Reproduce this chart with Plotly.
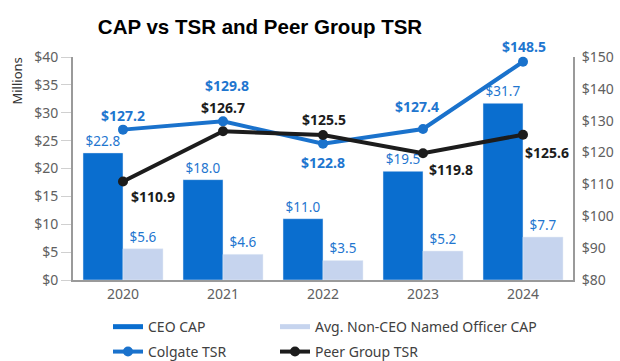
import plotly.graph_objects as go

years = ["2020", "2021", "2022", "2023", "2024"]
ceo_cap = [22.8, 18.0, 11.0, 19.5, 31.7]
neo_cap = [5.6, 4.6, 3.5, 5.2, 7.7]
colgate_tsr = [127.2, 129.8, 122.8, 127.4, 148.5]
peer_tsr = [110.9, 126.7, 125.5, 119.8, 125.6]

BLUE = "#0a6ecf"
LIGHT = "#c6d4ee"
LINE_BLUE = "#1a72cc"
BLACK = "#1c1c1c"
LABEL_BLUE = "#1f76cf"
GREY = "#606060"
FONT = "Noto Sans"

fig = go.Figure()

fig.add_trace(go.Bar(
    x=years, y=ceo_cap, marker_color=BLUE, showlegend=False,
    texttemplate="$%{y:.1f}", textposition="outside",
    textfont=dict(color=LABEL_BLUE, size=13.5, family=FONT), cliponaxis=False,
))
fig.add_trace(go.Bar(
    x=years, y=neo_cap, marker_color=LIGHT, showlegend=False,
    texttemplate="$%{y:.1f}", textposition="outside",
    textfont=dict(color=LABEL_BLUE, size=13.5, family=FONT), cliponaxis=False,
))
fig.add_trace(go.Scatter(
    x=years, y=colgate_tsr, yaxis="y2", mode="lines+markers",
    line=dict(color=LINE_BLUE, width=4), marker=dict(size=10, color=LINE_BLUE),
    name="Colgate TSR", legend="legend3", cliponaxis=False,
))
fig.add_trace(go.Scatter(
    x=years, y=peer_tsr, yaxis="y2", mode="lines+markers",
    line=dict(color=BLACK, width=4), marker=dict(size=10, color=BLACK),
    name="Peer Group TSR", legend="legend4", cliponaxis=False,
))

# legend swatches for the bar series (thin wide bars)
fig.add_trace(go.Scatter(x=[None], y=[None], mode="lines", name="CEO CAP",
                         line=dict(color=BLUE, width=5), legend="legend"))
fig.add_trace(go.Scatter(x=[None], y=[None], mode="lines",
                         name="Avg. Non-CEO Named Officer CAP",
                         line=dict(color=LIGHT, width=5), legend="legend2"))

# TSR value labels: (x shift, y shift, anchor) per point
colgate_pos = [(0, 14, "center"), (4, 36, "center"), (0, -19, "center"),
               (-6, 23, "center"), (1, 15, "center")]
peer_pos = [(6, -15, "left"), (0, 24, "center"), (1, 16, "center"),
            (4, -16, "left"), (0, -18, "left")]

annotations = []
for series, pos, color in ((colgate_tsr, colgate_pos, LABEL_BLUE),
                           (peer_tsr, peer_pos, BLACK)):
    for i, (v, (dx, dy, anc)) in enumerate(zip(series, pos)):
        annotations.append(dict(
            x=i, y=v, xref="x", yref="y2", text=f"<b>${v:.1f}</b>",
            showarrow=False, xshift=dx, yshift=dy, xanchor=anc,
            yanchor="middle",
            font=dict(color=color, size=14, family=FONT),
        ))

annotations.append(dict(
    text="Millions", textangle=-90, xref="paper", yref="paper",
    x=-0.112, y=0.89, xanchor="center", yanchor="middle", showarrow=False,
    font=dict(size=13, color="#333333", family=FONT),
))

legend_font = dict(size=14, color="#404040", family=FONT)
col_x = [0.07, 0.404]
row_y = [0.094, 0.025]


def legend_box(x, y):
    return dict(orientation="h", x=x, xanchor="left", y=y, yanchor="middle",
                yref="container", font=legend_font, bgcolor="rgba(0,0,0,0)")


fig.update_layout(
    width=620, height=361,
    margin=dict(l=73, r=47, t=57, b=81, autoexpand=False),
    paper_bgcolor="white", plot_bgcolor="white",
    barmode="group", bargap=0.2, bargroupgap=0,
    title=dict(text="<b>CAP vs TSR and Peer Group TSR</b>",
               x=260 / 620, xanchor="center", y=0.925, yanchor="middle",
               font=dict(family="Liberation Sans", size=20.5, color="black")),
    font=dict(family=FONT, color=GREY, size=14),
    xaxis=dict(type="category", showline=True, linecolor="#9a9a9a",
               linewidth=2, ticks="", showgrid=False, range=[-0.5, 4.5],
               tickfont=dict(size=14, color=GREY)),
    yaxis=dict(range=[0, 40], dtick=5, tickprefix="$", showgrid=False,
               showline=True, linecolor="#9a9a9a", linewidth=2,
               ticks="outside", ticklen=10, tickcolor="#d0d0d0",
               zeroline=False, tickfont=dict(size=14, color=GREY)),
    yaxis2=dict(range=[80, 150], dtick=10, tickprefix="$", overlaying="y",
                side="right", showgrid=False, showline=True,
                linecolor="#9a9a9a", linewidth=2, ticks="", zeroline=False,
                ticklabelstandoff=4, tickfont=dict(size=14, color=GREY)),
    legend=legend_box(col_x[0], row_y[0]),
    legend2=legend_box(col_x[1], row_y[0]),
    legend3=legend_box(col_x[0], row_y[1]),
    legend4=legend_box(col_x[1], row_y[1]),
    annotations=annotations,
)

fig.write_html("out.html")
